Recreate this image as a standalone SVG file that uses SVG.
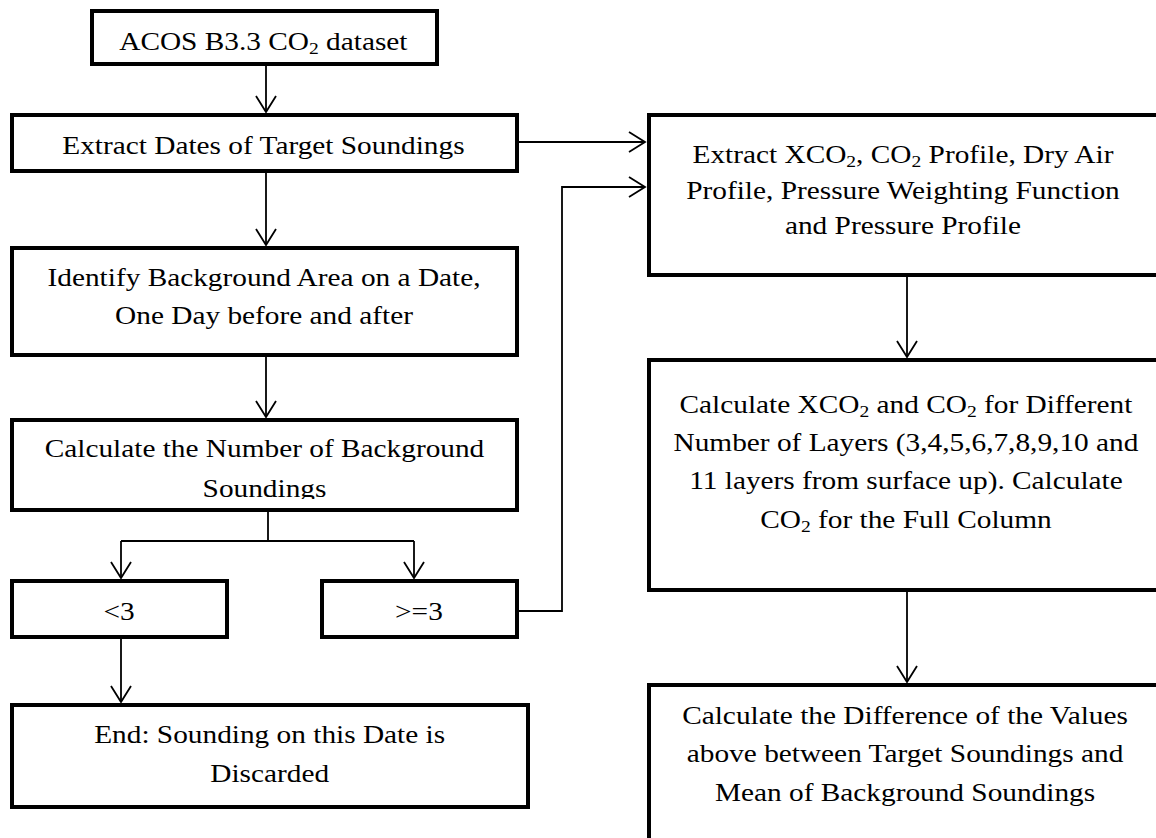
<svg xmlns="http://www.w3.org/2000/svg" width="1156" height="838" viewBox="0 0 1156 838">
<style>
.box{fill:#fff;stroke:#000;stroke-width:4}
.t{font-family:"Liberation Serif","Times New Roman",serif;font-size:25.5px;fill:#000;text-anchor:middle}
.sub{font-size:17px}
.c{fill:none;stroke:#000;stroke-width:1.8}
</style>
<defs>
<marker id="arr" markerUnits="userSpaceOnUse" viewBox="-20 -12 22 24" refX="0" refY="0" markerWidth="22" markerHeight="24" orient="auto">
<path d="M-16,-10 L0,0 L-16,10" fill="none" stroke="#000" stroke-width="1.8"/>
</marker>
<clipPath id="clipS"><rect x="0" y="0" width="600" height="499"/></clipPath>
</defs>
<rect width="1156" height="838" fill="#fff"/>
<g id="connectors">
<path class="c" d="M266,66 L266,112" marker-end="url(#arr)"/>
<path class="c" d="M519,142 L645,142" marker-end="url(#arr)"/>
<path class="c" d="M266,173 L266,245" marker-end="url(#arr)"/>
<path class="c" d="M266,357 L266,417" marker-end="url(#arr)"/>
<path class="c" d="M268,512 L268,541"/>
<path class="c" d="M121,541 L414,541"/>
<path class="c" d="M121,541 L121,578" marker-end="url(#arr)"/>
<path class="c" d="M414,541 L414,578" marker-end="url(#arr)"/>
<path class="c" d="M519,611 L562,611 L562,187 L645,187" marker-end="url(#arr)"/>
<path class="c" d="M121,639 L121,702" marker-end="url(#arr)"/>
<path class="c" d="M907,277 L907,357" marker-end="url(#arr)"/>
<path class="c" d="M907,592 L907,682" marker-end="url(#arr)"/>
</g>
<g id="n1">
<rect class="box" x="92" y="11" width="345" height="53"/>
<g transform="scale(1.15 1)"><text class="t" x="229" y="50">ACOS B3.3 CO<tspan class="sub" dy="4">2</tspan><tspan dy="-4"> dataset</tspan></text></g>
</g>
<g id="n2">
<rect class="box" x="12" y="115" width="505" height="56"/>
<g transform="scale(1.15 1)"><text class="t" x="229.1" y="154">Extract Dates of Target Soundings</text></g>
</g>
<g id="n3">
<rect class="box" x="12" y="248" width="505" height="107"/>
<g transform="scale(1.15 1)"><text class="t" x="229.6" y="286">Identify Background Area on a Date,</text><text class="t" x="229.6" y="324">One Day before and after</text></g>
</g>
<g id="n4">
<rect class="box" x="12" y="420" width="505" height="90"/>
<g transform="scale(1.15 1)"><text class="t" x="230" y="457">Calculate the Number of Background</text><text class="t" x="230" y="497" clip-path="url(#clipS)">Soundings</text></g>
</g>
<g id="n5">
<rect class="box" x="12" y="581" width="215" height="56"/>
<g transform="scale(1.15 1)"><text class="t" x="103.5" y="620">&lt;3</text></g>
</g>
<g id="n6">
<rect class="box" x="322" y="581" width="195" height="56"/>
<g transform="scale(1.15 1)"><text class="t" x="364.3" y="620">&gt;=3</text></g>
</g>
<g id="n7">
<rect class="box" x="12" y="705" width="516" height="102"/>
<g transform="scale(1.15 1)"><text class="t" x="234.5" y="743">End: Sounding on this Date is</text><text class="t" x="234.5" y="782">Discarded</text></g>
</g>
<g id="n8">
<rect class="box" x="649" y="115" width="520" height="160"/>
<g transform="scale(1.15 1)">
<text class="t" x="785.2" y="163">Extract XCO<tspan class="sub" dy="4">2</tspan><tspan dy="-4">, CO</tspan><tspan class="sub" dy="4">2</tspan><tspan dy="-4"> Profile, Dry Air</tspan></text>
<text class="t" x="785.2" y="199">Profile, Pressure Weighting Function</text>
<text class="t" x="785.2" y="234">and Pressure Profile</text>
</g>
</g>
<g id="n9">
<rect class="box" x="649" y="360" width="520" height="230"/>
<g transform="scale(1.15 1)">
<text class="t" x="787.8" y="413">Calculate XCO<tspan class="sub" dy="4">2</tspan><tspan dy="-4"> and CO</tspan><tspan class="sub" dy="4">2</tspan><tspan dy="-4"> for Different</tspan></text>
<text class="t" x="787.8" y="451">Number of Layers (3,4,5,6,7,8,9,10 and</text>
<text class="t" x="787.8" y="489">11 layers from surface up). Calculate</text>
<text class="t" x="787.8" y="528">CO<tspan class="sub" dy="4">2</tspan><tspan dy="-4"> for the Full Column</tspan></text>
</g>
</g>
<g id="n10">
<rect class="box" x="649" y="685" width="520" height="170"/>
<g transform="scale(1.15 1)">
<text class="t" x="787" y="724">Calculate the Difference of the Values</text>
<text class="t" x="787" y="762">above between Target Soundings and</text>
<text class="t" x="787" y="801">Mean of Background Soundings</text>
</g>
</g>
</svg>
